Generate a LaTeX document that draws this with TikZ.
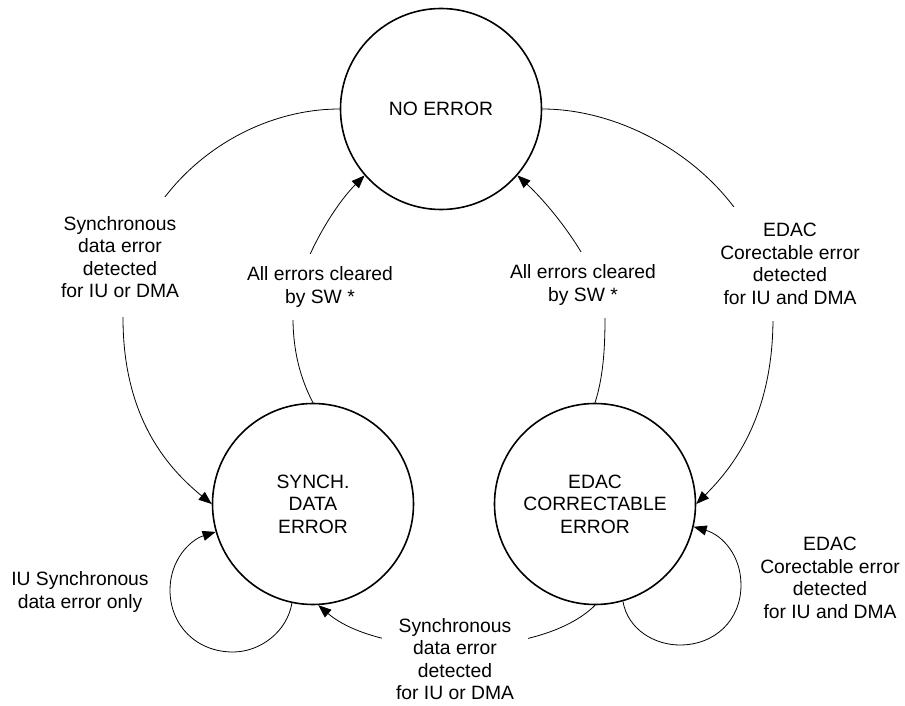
\documentclass[tikz,border=0pt]{standalone}
\usepackage{fontspec}
\setmainfont{Liberation Sans}
\usetikzlibrary{arrows.meta}

\begin{document}
\begin{tikzpicture}[
    x=1pt,
    y=-1pt,
    every node/.style={font=\fontsize{19.3}{22.6}\selectfont},
    errstate/.style={circle, draw, line width=1.6pt, minimum size=201pt, inner sep=0pt, align=center},
    lbl/.style={fill=white, align=center, inner xsep=4pt},
    trans/.style={line width=0.8pt, -{Triangle[length=13pt,width=10pt]}}
]
    \useasboundingbox (0,0) rectangle (905,706);

    % Etats
    \node[errstate] (noerr) at (441,109) {NO ERROR};
    \node[errstate] (synch) at (313,504) {SYNCH.\\DATA\\ERROR};
    \node[errstate] (edac) at (595,504) {EDAC\\CORRECTABLE\\ERROR};

    % Transitions depuis NO ERROR
    \draw[trans] (noerr.west) .. controls (230,109) and (123,200) .. (123,318)
        .. controls (123,420) and (170,470) .. (synch.west);
    \draw[trans] (noerr.east) .. controls (650,109) and (773,200) .. (773,318)
        .. controls (773,420) and (730,470) .. (edac.east);

    % Retour vers NO ERROR
    \draw[trans] (synch.north) .. controls (300,378) and (293,350) .. (293,318)
        .. controls (293,275) and (330,210) .. (noerr.221);
    \draw[trans] (edac.north) .. controls (603,378) and (605,350) .. (605,318)
        .. controls (605,275) and (555,210) .. (noerr.319);

    % Boucles
    \draw[trans] (synch.258) .. controls (287,632) and (260,652) .. (233,652)
        .. controls (196,652) and (170,625) .. (170,590)
        .. controls (170,560) and (190,540) .. (synch.196);
    \draw[trans] (edac.286) .. controls (628,630) and (655,645) .. (680,645)
        .. controls (715,645) and (741,620) .. (741,585)
        .. controls (741,555) and (722,535) .. (edac.347);

    % EDAC -> SYNCH
    \draw[trans] (edac.south) .. controls (540,660) and (380,658) .. (synch.273);

    % Etiquettes
    \node[lbl, inner ysep=19pt] (lsync) at (120,257) {Synchronous\\data error\\detected\\for IU or DMA};
    \node[lbl, inner ysep=16pt] (ledac) at (790,264) {EDAC\\Corectable error\\detected\\for IU and DMA};
    \node[lbl, inner ysep=13pt] (lclra) at (320,287) {All errors cleared\\by SW *};
    \node[lbl, inner ysep=13pt] (lclrb) at (583,285) {All errors cleared\\by SW *};
    \node[lbl] (liu) at (80,592) {IU Synchronous\\data error only};
    \node[lbl, inner xsep=14pt] (lbas) at (455,659) {Synchronous\\data error\\detected\\for IU or DMA};
    \node[lbl] (lcor) at (830,578) {EDAC\\Corectable error\\detected\\for IU and DMA};

\end{tikzpicture}
\end{document}
